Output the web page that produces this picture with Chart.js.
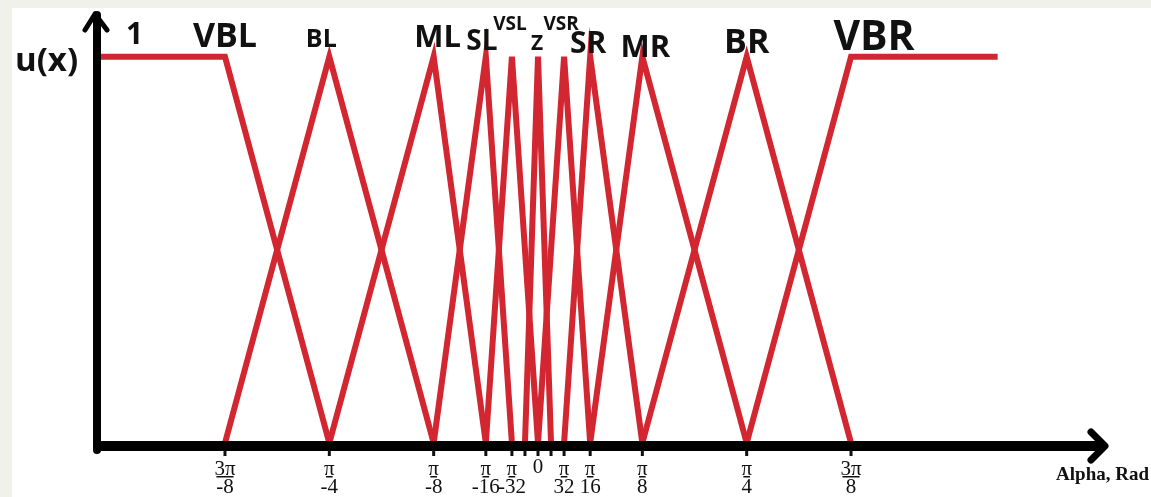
<!DOCTYPE html>
<html>
<head>
<meta charset="utf-8">
<script src="https://cdn.jsdelivr.net/npm/chart.js@4.4.1/dist/chart.umd.min.js"></script>
<style>
  html, body { margin: 0; padding: 0; background: #eff1ea; overflow: hidden; }
  #paper { position: absolute; left: 12px; top: 8px; width: 1139px; height: 489px; background: #fff; }
  #chart { position: absolute; left: 0; top: 0; }
</style>
</head>
<body>
<div id="paper"></div>
<canvas id="chart" width="1151" height="497"></canvas>
<script>
const P = Math.PI;

// fuzzy sets: names, breakpoints (rad) and membership grades
const setNames = ['VBL', 'BL', 'ML', 'SL', 'VSL', 'Z', 'VSR', 'SR', 'MR', 'BR', 'VBR'];
const setBreaks = [
  [-1.65, -3 * P / 8, -P / 4],
  [-3 * P / 8, -P / 4, -P / 8],
  [-P / 4, -P / 8, -P / 16],
  [-P / 8, -P / 16, -P / 32],
  [-P / 16, -P / 32, 0],
  [-P / 64, 0, P / 64],
  [0, P / 32, P / 16],
  [P / 32, P / 16, P / 8],
  [P / 16, P / 8, P / 4],
  [P / 8, P / 4, 3 * P / 8],
  [P / 4, 3 * P / 8, 1.73]
];
const setGrades = [
  [1, 1, 0], [0, 1, 0], [0, 1, 0], [0, 1, 0], [0, 1, 0], [0, 1, 0],
  [0, 1, 0], [0, 1, 0], [0, 1, 0], [0, 1, 0], [0, 1, 1]
];
// peak used to place each set's name
const setPeaks = [-3 * P / 8, -P / 4, -P / 8, -P / 16, -P / 32, 0, P / 32, P / 16, P / 8, P / 4, 3 * P / 8];

// x axis ticks
const tickValues = [-3 * P / 8, -P / 4, -P / 8, -P / 16, -P / 32, -P / 64, 0, P / 64, P / 32, P / 16, P / 8, P / 4, 3 * P / 8];
const tickNum = ['3π', 'π', 'π', 'π', 'π', '', '0', '', 'π', 'π', 'π', 'π', '3π'];
const tickDen = ['-8', '-4', '-8', '-16', '-32', '', '', '', '32', '16', '8', '4', '8'];

// label styling (offset in px, baseline y, font size)
const nameStyle = {
  VBL: [0, 47, 34], BL: [-8, 47, 25], ML: [4, 47, 31], SL: [-4, 50, 28],
  VSL: [-2, 30, 19], Z: [-1, 50, 21], VSR: [-3, 30, 19], SR: [-2, 53, 30],
  MR: [3, 57, 31], BR: [0, 53, 34], VBR: [23, 50, 41]
};

const RED = '#d22630';
const sans = '"Open Sans", "DejaVu Sans", sans-serif';
const serif = '"Liberation Serif", "DejaVu Serif", serif';

const datasets = setNames.map(function (name, i) {
  return {
    label: name,
    data: setBreaks[i].map(function (x, j) { return { x: x, y: setGrades[i][j] }; }),
    showLine: true,
    borderColor: RED,
    borderWidth: 6,
    pointRadius: 0,
    tension: 0,
    borderJoinStyle: 'miter',
    clip: 6
  };
});

const drawing = {
  id: 'drawing',
  afterDatasetsDraw(chart) {
    const ctx = chart.ctx;
    const xs = chart.scales.x, ys = chart.scales.y;
    const x0 = xs.getPixelForValue(xs.min);
    const y0 = ys.getPixelForValue(0) + 3;
    ctx.save();
    ctx.strokeStyle = '#000';
    ctx.lineCap = 'round';
    ctx.lineJoin = 'round';

    // axes
    ctx.lineWidth = 8;
    ctx.beginPath();
    ctx.moveTo(x0, y0 + 4);
    ctx.lineTo(x0, chart.chartArea.top - 3);
    ctx.stroke();
    ctx.lineWidth = 10;
    ctx.lineCap = 'butt';
    ctx.beginPath();
    ctx.moveTo(x0 - 4, y0);
    ctx.lineTo(chart.chartArea.right - 4, y0);
    ctx.stroke();
    ctx.lineCap = 'round';

    // arrow heads
    ctx.lineWidth = 5;
    ctx.beginPath();
    ctx.moveTo(x0 - 12, chart.chartArea.top + 12);
    ctx.lineTo(x0 - 2, chart.chartArea.top - 4);
    ctx.lineTo(x0 + 10, chart.chartArea.top + 12);
    ctx.stroke();
    ctx.lineWidth = 7;
    ctx.beginPath();
    ctx.moveTo(chart.chartArea.right - 14, y0 - 14);
    ctx.lineTo(chart.chartArea.right, y0);
    ctx.lineTo(chart.chartArea.right - 14, y0 + 14);
    ctx.stroke();

    // ticks and labels
    ctx.fillStyle = '#111';
    ctx.textAlign = 'center';
    ctx.textBaseline = 'middle';
    ctx.font = '21px ' + serif;
    tickValues.forEach(function (v, i) {
      const px = xs.getPixelForValue(v);
      ctx.fillRect(px - 1.5, y0 + 4, 3, 6);
      if (!tickNum[i]) return;
      if (!tickDen[i]) {
        ctx.fillText(tickNum[i], px, y0 + 21);
        return;
      }
      ctx.fillText(tickNum[i], px, y0 + 23);
      const w = ctx.measureText(tickNum[i]).width;
      ctx.fillRect(px - w / 2 + 2, y0 + 30, w - 4, 1.5);
      ctx.fillText(tickDen[i], px, y0 + 41);
    });

    // set names
    ctx.textBaseline = 'alphabetic';
    setNames.forEach(function (name, i) {
      const s = nameStyle[name];
      ctx.font = 'bold ' + s[2] + 'px ' + sans;
      ctx.fillText(name, xs.getPixelForValue(setPeaks[i]) + s[0], s[1]);
    });

    // axis titles
    ctx.font = 'bold 33px ' + sans;
    ctx.textAlign = 'left';
    ctx.fillText('u(x)', 15, 71);
    ctx.font = 'bold 30px ' + sans;
    ctx.fillText('1', 126, 44);
    ctx.font = 'bold 19px ' + serif;
    ctx.textAlign = 'right';
    ctx.fillText('Alpha, Rad', 1149, 480);
    ctx.restore();
  }
};

new Chart(document.getElementById('chart'), {
  type: 'scatter',
  data: { datasets: datasets },
  options: {
    responsive: false,
    animation: false,
    layout: { padding: { left: 97, right: 46, top: 18, bottom: 54 } },
    plugins: { legend: { display: false }, tooltip: { enabled: false } },
    scales: {
      x: { type: 'linear', min: -1.6598, max: 2.134, display: false },
      y: { type: 'linear', min: 0, max: 1.1, display: false }
    }
  },
  plugins: [drawing]
});
</script>
</body>
</html>
